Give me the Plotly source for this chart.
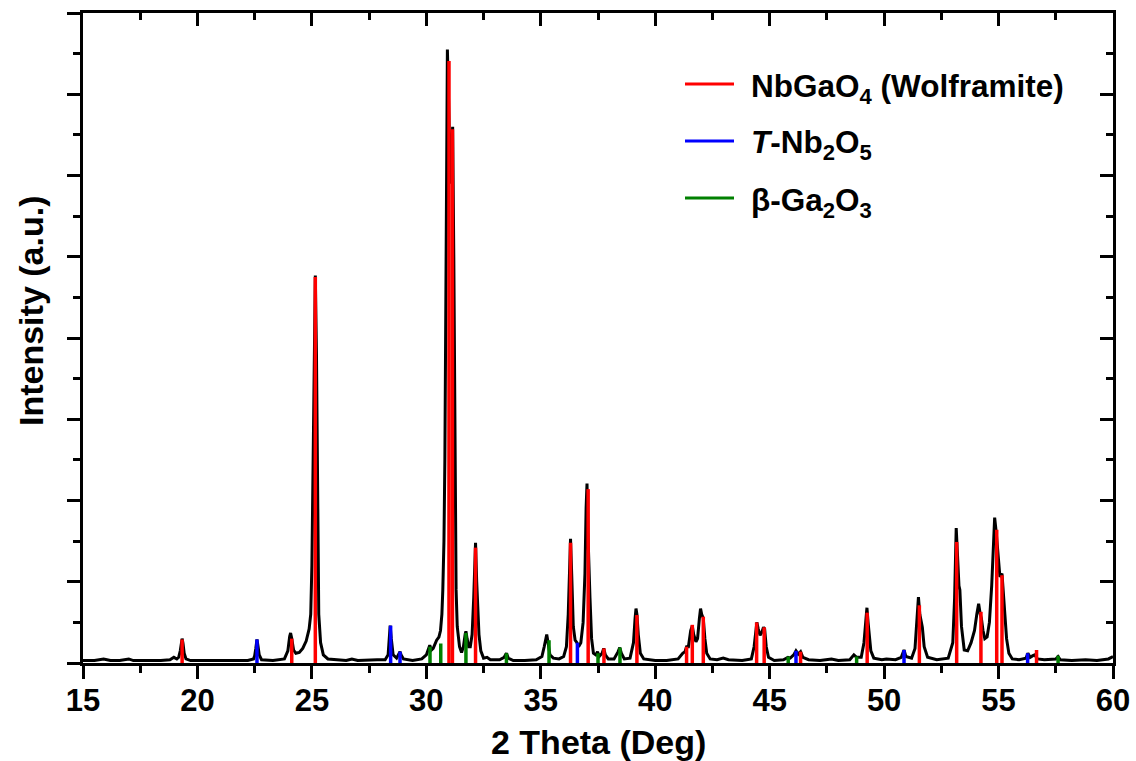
import plotly.graph_objects as go

# ---- measured XRD pattern (2theta, intensity in arbitrary units) ----
two_theta = [
    15.0, 15.5, 15.9, 16.2, 16.6, 17.0, 17.2, 17.8, 18.4, 18.8, 18.97, 19.1,
    19.18, 19.25, 19.3, 19.33, 19.37, 19.42, 19.5, 19.7,
    20.3, 21.0, 21.6, 22.2, 22.45,
    22.5, 22.55, 22.6, 22.65, 22.7, 22.8,
    23.3, 23.8, 23.95, 24.03, 24.07, 24.12, 24.2, 24.3, 24.45, 24.6, 24.75, 24.88,
    24.95, 25.0, 25.05, 25.1, 25.15, 25.2, 25.25, 25.3, 25.38, 25.5, 25.7, 26.0,
    26.5, 26.75, 27.0, 27.85, 28.2, 28.33,
    28.37, 28.42, 28.47, 28.55, 28.7, 28.8, 28.85, 28.9, 29.0,
    29.4, 29.8, 30.0, 30.1, 30.15, 30.22, 30.3, 30.45, 30.55, 30.62, 30.68, 30.72,
    30.77, 30.81, 30.85, 30.89, 30.92, 30.95, 30.99, 31.05, 31.1, 31.15, 31.2, 31.25,
    31.3, 31.35, 31.45, 31.54, 31.62, 31.7, 31.73, 31.78, 31.85, 31.92, 32.0, 32.07,
    32.12, 32.15, 32.2, 32.25, 32.3, 32.38, 32.5, 32.65, 32.8, 33.2, 33.4, 33.5,
    33.58, 33.8,
    34.3, 34.8, 35.05, 35.15, 35.23, 35.26, 35.32, 35.4, 35.55, 35.8, 36.0, 36.12,
    36.2, 36.26, 36.3, 36.35, 36.42, 36.5, 36.58, 36.65, 36.75, 36.85, 36.93, 36.98,
    37.02, 37.06, 37.1, 37.15, 37.22, 37.3, 37.4, 37.48, 37.55, 37.68, 37.75, 37.82,
    37.95, 38.2, 38.38, 38.45, 38.52, 38.65, 38.9, 39.05, 39.12, 39.16, 39.2, 39.26,
    39.35, 39.5, 40.0,
    40.5, 41.0, 41.2, 41.3, 41.37, 41.45, 41.55, 41.62, 41.68, 41.78, 41.85, 41.93,
    41.98, 42.03, 42.1, 42.17, 42.25, 42.4, 42.7, 42.97, 43.2, 43.8, 44.2, 44.32,
    44.4, 44.44, 44.5, 44.58, 44.66, 44.73, 44.78, 44.85, 44.95, 45.2, 45.6, 45.8,
    45.9, 46.05, 46.15, 46.25, 46.35, 46.45, 46.7, 47.2, 47.7, 48.0, 48.5, 48.68,
    48.8, 49.0, 49.12, 49.2, 49.25, 49.3, 49.35, 49.42, 49.55, 49.9, 50.1, 50.5,
    50.75, 50.87, 50.95, 51.2, 51.35, 51.45, 51.5, 51.56, 51.67, 51.75, 51.9, 52.3,
    52.6, 52.8, 53.0, 53.08, 53.15, 53.2, 53.27, 53.31, 53.38, 53.5, 53.65, 53.8,
    53.95, 54.05, 54.13, 54.2, 54.25, 54.32, 54.4, 54.5, 54.6, 54.7, 54.78, 54.83,
    54.9, 54.96, 55.0, 55.06, 55.15, 55.22, 55.28, 55.35, 55.45, 55.6, 55.9, 56.2,
    56.28, 56.38, 56.5, 56.58, 56.7, 57.0, 57.5, 57.6, 57.7, 58.2, 58.8, 59.3,
    59.8, 60.0,
]
intensity = [
    0.03, 0.03, 0.05, 0.03, 0.03, 0.05, 0.03, 0.03, 0.03, 0.04, 0.07, 0.05,
    0.07, 0.15, 0.26, 0.30, 0.24, 0.12, 0.05, 0.03,
    0.03, 0.03, 0.03, 0.03, 0.05,
    0.09, 0.18, 0.29, 0.20, 0.10, 0.04,
    0.03, 0.05, 0.15, 0.33, 0.37, 0.30, 0.16, 0.12, 0.13, 0.18, 0.27, 0.42,
    0.60, 1.20, 2.50, 4.00, 4.77, 3.80, 1.80, 0.60, 0.25, 0.10, 0.05, 0.04,
    0.03, 0.05, 0.03, 0.04, 0.04, 0.10,
    0.25, 0.46, 0.30, 0.10, 0.06, 0.12, 0.14, 0.10, 0.05,
    0.03, 0.05, 0.10, 0.20, 0.22, 0.16, 0.18, 0.28, 0.32, 0.40, 0.60, 0.90,
    1.50, 2.50, 4.50, 7.00, 7.55, 7.20, 6.50, 5.90, 6.30, 6.60, 5.00, 2.00,
    0.90, 0.45, 0.20, 0.13, 0.20, 0.36, 0.39, 0.30, 0.20, 0.20, 0.35, 0.80,
    1.40, 1.48, 1.00, 0.65, 0.35, 0.15, 0.06, 0.07, 0.04, 0.04, 0.07, 0.12,
    0.06, 0.03,
    0.03, 0.04, 0.08, 0.20, 0.33, 0.35, 0.25, 0.10, 0.06, 0.05, 0.08, 0.20,
    0.60, 1.30, 1.53, 1.10, 0.45, 0.28, 0.25, 0.20, 0.25, 0.50, 1.10, 1.90,
    2.21, 1.60, 1.18, 0.80, 0.30, 0.12, 0.10, 0.14, 0.08, 0.12, 0.18, 0.10,
    0.05, 0.05, 0.14, 0.19, 0.12, 0.05, 0.06, 0.25, 0.55, 0.67, 0.60, 0.35,
    0.12, 0.05, 0.03,
    0.03, 0.05, 0.12, 0.14, 0.20, 0.20, 0.40, 0.46, 0.35, 0.26, 0.30, 0.55,
    0.67, 0.60, 0.55, 0.30, 0.12, 0.05, 0.04, 0.06, 0.04, 0.03, 0.05, 0.20,
    0.45, 0.50, 0.42, 0.34, 0.38, 0.44, 0.42, 0.20, 0.07, 0.03, 0.04, 0.07,
    0.06, 0.10, 0.15, 0.11, 0.14, 0.07, 0.04, 0.03, 0.05, 0.03, 0.04, 0.10,
    0.07, 0.07, 0.25, 0.60, 0.68, 0.50, 0.35, 0.15, 0.06, 0.04, 0.05, 0.04,
    0.07, 0.16, 0.08, 0.06, 0.18, 0.60, 0.81, 0.60, 0.44, 0.20, 0.07, 0.04,
    0.05, 0.06, 0.25, 0.80, 1.66, 1.30, 0.95, 0.90, 0.45, 0.16, 0.15, 0.25,
    0.40, 0.60, 0.73, 0.60, 0.55, 0.40, 0.30, 0.32, 0.50, 0.95, 1.60, 1.79,
    1.60, 1.35, 1.25, 1.06, 1.10, 0.80, 0.57, 0.30, 0.12, 0.05, 0.04, 0.06,
    0.12, 0.07, 0.09, 0.10, 0.05, 0.04, 0.05, 0.08, 0.04, 0.03, 0.04, 0.03,
    0.05, 0.08,
]

# ---- reference patterns (stick positions and relative heights) ----
nbgao4_pos = [19.33, 24.12, 25.15, 30.99, 31.14, 32.15, 36.30, 37.07, 37.76, 39.20,
              41.37, 41.62, 42.10, 44.43, 44.76, 46.35, 49.26, 51.54, 53.17, 54.23,
              54.92, 55.15, 56.66]
nbgao4_h = [0.29, 0.30, 4.75, 7.41, 6.57, 1.42, 1.48, 2.14, 0.18, 0.59,
            0.20, 0.47, 0.57, 0.50, 0.44, 0.14, 0.62, 0.71, 1.49, 0.63,
            1.64, 1.08, 0.16]

tnb2o5_pos = [22.60, 28.44, 28.85, 36.60, 46.15, 50.87, 56.27]
tnb2o5_h = [0.29, 0.46, 0.14, 0.25, 0.15, 0.16, 0.12]

ga2o3_pos = [30.16, 30.63, 31.73, 33.50, 35.36, 37.50, 38.46, 45.81, 48.80, 57.60]
ga2o3_h = [0.20, 0.24, 0.37, 0.12, 0.28, 0.12, 0.19, 0.08, 0.08, 0.09]

x_ticks = [15, 20, 25, 30, 35, 40, 45, 50, 55, 60]

phases = [
    ("NbGaO<sub>4</sub> (Wolframite)", nbgao4_pos, nbgao4_h, "#ff0000"),
    ("<i>T</i>-Nb<sub>2</sub>O<sub>5</sub>", tnb2o5_pos, tnb2o5_h, "#0000ff"),
    ("\u03b2-Ga<sub>2</sub>O<sub>3</sub>", ga2o3_pos, ga2o3_h, "#008000"),
]

FONT = "Liberation Sans, Arial, sans-serif"

fig = go.Figure()
fig.add_trace(go.Scatter(x=two_theta, y=intensity, mode="lines",
                         line=dict(color="black", width=3),
                         name="XRD", showlegend=False, hoverinfo="x+y"))

for name, pos, h, col in phases:
    xs, ys = [], []
    for p, v in zip(pos, h):
        xs += [p, p, None]
        ys += [0, v, None]
    fig.add_trace(go.Scatter(x=xs, y=ys, mode="lines", name=name,
                             line=dict(color=col, width=3.5), showlegend=False))

# empty trace to activate the mirrored (top / right) axes
fig.add_trace(go.Scatter(x=[], y=[], xaxis="x2", yaxis="y2", showlegend=False))

axis_common = dict(showgrid=False, zeroline=False, showline=True,
                   linecolor="black", linewidth=3, tickcolor="black",
                   tickwidth=2.5, automargin=False)

fig.update_layout(
    width=1136, height=761, autosize=False,
    margin=dict(l=83, r=23, t=13, b=98, autoexpand=False),
    paper_bgcolor="white", plot_bgcolor="white",
    font=dict(family=FONT, color="black"),
    xaxis=dict(range=[15, 60], tickvals=x_ticks, ticks="outside", ticklen=13,
               ticklabelstandoff=-5,
               minor=dict(dtick=2.5, tick0=15, ticks="outside", ticklen=7,
                          tickwidth=2.5, tickcolor="black"),
               tickfont=dict(size=31, family=FONT, weight="bold"),
               **axis_common),
    yaxis=dict(range=[0, 8], dtick=1, tick0=0, ticks="outside", ticklen=13,
               showticklabels=False,
               minor=dict(dtick=0.5, tick0=0, ticks="outside", ticklen=7,
                          tickwidth=2.5, tickcolor="black"),
               **axis_common),
    xaxis2=dict(range=[15, 60], overlaying="x", side="top", anchor="y2",
                tickvals=x_ticks, ticks="inside", ticklen=13, showticklabels=False,
                minor=dict(dtick=2.5, tick0=15, ticks="inside", ticklen=7,
                           tickwidth=2.5, tickcolor="black"),
                **axis_common),
    yaxis2=dict(range=[0, 8], overlaying="y", side="right", anchor="x2",
                dtick=1, tick0=0, ticks="inside", ticklen=13, showticklabels=False,
                minor=dict(dtick=0.5, tick0=0, ticks="inside", ticklen=7,
                           tickwidth=2.5, tickcolor="black"),
                **axis_common),
)

plot_l, plot_r, plot_t, plot_b = 83, 1113, 13, 663
def px_x(px):
    return (px - plot_l) / (plot_r - plot_l)
def px_y(py):
    return (plot_b - py) / (plot_b - plot_t)

# axis titles
fig.add_annotation(text="2 Theta (Deg)", xref="paper", yref="paper",
                   x=px_x(598), y=px_y(742), xanchor="center", yanchor="middle",
                   showarrow=False, font=dict(size=34, family=FONT, weight="bold"))
fig.add_annotation(text="Intensity (a.u.)", xref="paper", yref="paper",
                   x=px_x(31), y=px_y(311), xanchor="center", yanchor="middle",
                   textangle=-90, showarrow=False,
                   font=dict(size=34, family=FONT, weight="bold"))

# legend drawn as line samples + labels (paper coordinates)
legend_rows = [84, 141, 198]
for (name, pos, h, col), ry in zip(phases, legend_rows):
    fig.add_shape(type="line", xref="paper", yref="paper",
                  x0=px_x(685), x1=px_x(734), y0=px_y(ry), y1=px_y(ry),
                  line=dict(color=col, width=3))
    fig.add_annotation(text=name, xref="paper", yref="paper",
                       x=px_x(749), y=px_y(ry + 4), xanchor="left", yanchor="middle",
                       showarrow=False,
                       font=dict(size=31.5, family=FONT, weight="bold"))

fig.write_html("out.html")
